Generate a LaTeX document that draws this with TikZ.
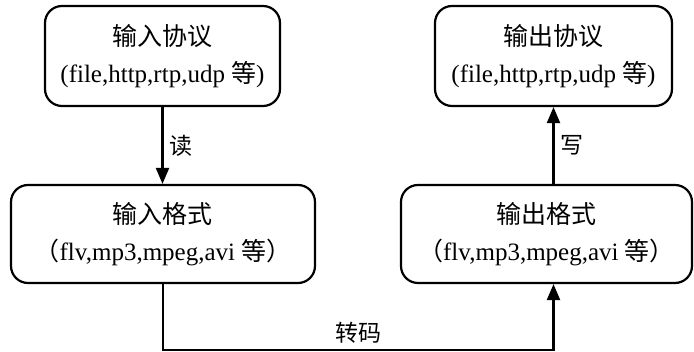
\documentclass[tikz,border=0pt]{standalone}
\usepackage{fontspec}
\setmainfont{Liberation Serif}
\newfontfamily\cjk{Noto Sans CJK SC}
\usetikzlibrary{arrows.meta,positioning}

\begin{document}
\begin{tikzpicture}[x=1pt,y=-1pt,
  box/.style={draw,line width=2.2pt,rounded corners=17pt,minimum height=100pt,
    align=center,font=\fontsize{25}{37}\selectfont},
  arr/.style={line width=2.2pt,-{Triangle[length=16pt,width=13pt]}},
  lbl/.style={font=\cjk\fontsize{23}{26}\selectfont}]
\useasboundingbox (0,0) rectangle (694,352);
\node[box,minimum width=235pt] (inproto) at (162.5,56) {{\cjk 输入协议}\\(file,http,rtp,udp {\cjk 等})};
\node[box,minimum width=237pt] (outproto) at (553.5,56) {{\cjk 输出协议}\\(file,http,rtp,udp {\cjk 等})};
\node[box,minimum width=304pt,minimum height=98pt] (infmt) at (163,234) {{\cjk 输入格式}\\{\cjk （}flv,mp3,mpeg,avi {\cjk 等）}};
\node[box,minimum width=291pt,minimum height=98pt] (outfmt) at (546.5,234) {{\cjk 输出格式}\\{\cjk （}flv,mp3,mpeg,avi {\cjk 等）}};
\draw[arr] (inproto.south) -- (inproto.south |- infmt.north)
  node[midway,right=3pt,lbl] (read) {读};
\draw[arr] (outproto.south |- outfmt.north) -- (outproto.south)
  node[midway,right=3pt,lbl] (write) {写};
\draw[arr] (infmt.south) -- ++(0,66) coordinate (c1)
  -- (c1 -| outproto.south) node[midway,above=2pt,lbl] (trans) {转码}
  -- (outproto.south |- outfmt.south);
\end{tikzpicture}
\end{document}
